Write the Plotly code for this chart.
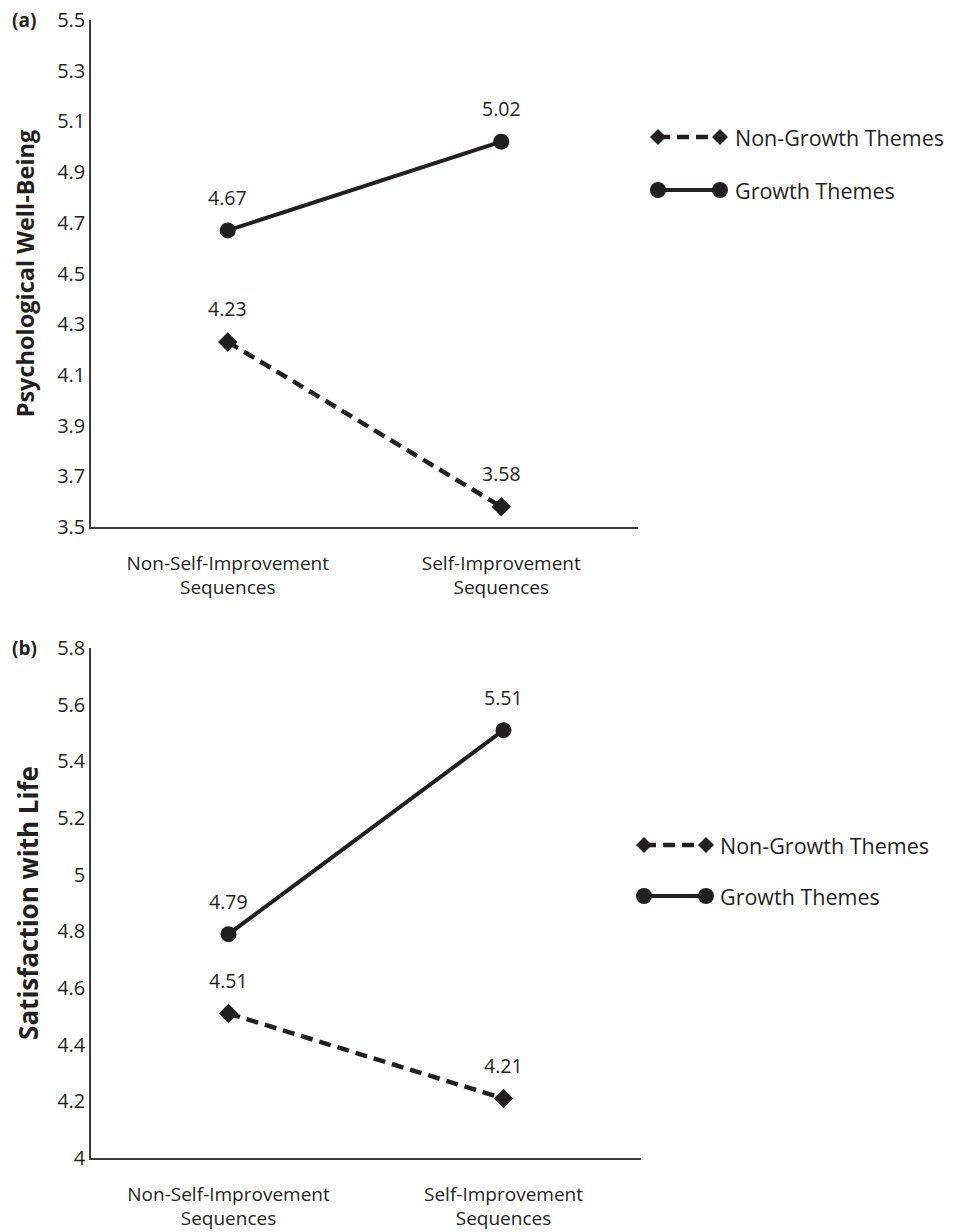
import plotly.graph_objects as go

# ---------------- data ----------------
categories = ["Non-Self-Improvement<br>Sequences", "Self-Improvement<br>Sequences"]
series_names = ["Non-Growth Themes", "Growth Themes"]

pwb_non_growth = [4.23, 3.58]
pwb_growth = [4.67, 5.02]
swl_non_growth = [4.51, 4.21]
swl_growth = [4.79, 5.51]

pwb_ticks = [3.5, 3.7, 3.9, 4.1, 4.3, 4.5, 4.7, 4.9, 5.1, 5.3, 5.5]
pwb_ticklabels = ["3.5", "3.7", "3.9", "4.1", "4.3", "4.5", "4.7", "4.9", "5.1", "5.3", "5.5"]
swl_ticks = [4.0, 4.2, 4.4, 4.6, 4.8, 5.0, 5.2, 5.4, 5.6, 5.8]
swl_ticklabels = ["4", "4.2", "4.4", "4.6", "4.8", "5", "5.2", "5.4", "5.6", "5.8"]

# ---------------- style ----------------
W, H = 954, 1232
INK = "#231f20"
FONT = "Open Sans"
FS = 19

def px(x):
    return x / W

def py(y):
    return 1 - y / H

fig = go.Figure()

panels = [
    dict(xa="x", ya="y", non=pwb_non_growth, gro=pwb_growth),
    dict(xa="x2", ya="y2", non=swl_non_growth, gro=swl_growth),
]

annotations = []
for p in panels:
    fig.add_trace(go.Scatter(
        x=categories, y=p["non"], xaxis=p["xa"], yaxis=p["ya"],
        mode="lines+markers", name=series_names[0], showlegend=False,
        line=dict(color=INK, width=4.5, dash="12px,7px"),
        marker=dict(symbol="diamond", size=15, color=INK),
        hoverinfo="x+y",
    ))
    fig.add_trace(go.Scatter(
        x=categories, y=p["gro"], xaxis=p["xa"], yaxis=p["ya"],
        mode="lines+markers", name=series_names[1], showlegend=False,
        line=dict(color=INK, width=4),
        marker=dict(symbol="circle", size=16, color=INK),
        hoverinfo="x+y",
    ))
    for vals in (p["non"], p["gro"]):
        for c, v in zip(categories, vals):
            annotations.append(dict(
                x=c, y=v, xref=p["xa"], yref=p["ya"], text=f"{v:.2f}",
                showarrow=False, yshift=33, font=dict(family=FONT, size=19.5, color=INK),
            ))

axis_common = dict(
    showgrid=False, zeroline=False, showline=True, linecolor="#3a3a3a", linewidth=1.5,
    ticks="", automargin=False, ticklabeloverflow="allow",
)
xtick_font = dict(family=FONT, size=FS, color=INK)
ytick_font = dict(family=FONT, size=20, color=INK)

fig.update_layout(
    width=W, height=H, autosize=False,
    margin=dict(l=0, r=0, t=0, b=0),
    paper_bgcolor="white", plot_bgcolor="white",
    showlegend=False,
    xaxis=dict(domain=[px(91), px(638)], anchor="y", type="category",
               range=[-0.5, 1.5], ticklabelstandoff=18, tickfont=xtick_font, **axis_common),
    yaxis=dict(domain=[py(527), py(20)], anchor="x", range=[3.5, 5.5],
               tickvals=pwb_ticks, ticktext=pwb_ticklabels, tickfont=ytick_font,
               title=dict(text="<b>Psychological Well-Being</b>", standoff=16,
                          font=dict(family=FONT, size=23.5, color=INK)),
               **axis_common),
    xaxis2=dict(domain=[px(91), px(641)], anchor="y2", type="category",
                range=[-0.5, 1.5], ticklabelstandoff=18, tickfont=xtick_font, **axis_common),
    yaxis2=dict(domain=[py(1158), py(648)], anchor="x2", range=[4.0, 5.8],
                tickvals=swl_ticks, ticktext=swl_ticklabels, tickfont=ytick_font,
                title=dict(text="<b>Satisfaction with Life</b>", standoff=11,
                           font=dict(family=FONT, size=26, color=INK)),
                **axis_common),
)

# panel labels
annotations.append(dict(x=px(10), y=py(20), xref="paper", yref="paper", text="<b>(a)</b>",
                        showarrow=False, xanchor="left", yanchor="middle",
                        font=dict(family=FONT, size=19, color=INK)))
annotations.append(dict(x=px(10), y=py(648), xref="paper", yref="paper", text="<b>(b)</b>",
                        showarrow=False, xanchor="left", yanchor="middle",
                        font=dict(family=FONT, size=19, color=INK)))

# custom legends (markers at both ends of a line sample)
shapes = []
legend_layouts = [
    dict(x0=658, x1=720, tx=733, rows=[137, 190]),
    dict(x0=644, x1=706, tx=718, rows=[845, 896]),
]

def diamond(xc, yc, r=8):
    return dict(type="path", xref="paper", yref="paper", xsizemode="pixel", ysizemode="pixel",
                xanchor=px(xc), yanchor=py(yc),
                path=f"M0,{r} L{r},0 L0,-{r} L-{r},0 Z",
                fillcolor=INK, line=dict(width=0))

def circle(xc, yc, r=8):
    return dict(type="circle", xref="paper", yref="paper", xsizemode="pixel", ysizemode="pixel",
                xanchor=px(xc), yanchor=py(yc), x0=-r, x1=r, y0=-r, y1=r,
                fillcolor=INK, line=dict(width=0))

for L in legend_layouts:
    y_ng, y_g = L["rows"]
    shapes.append(dict(type="line", xref="paper", yref="paper",
                       x0=px(L["x0"]), x1=px(L["x1"]), y0=py(y_ng), y1=py(y_ng),
                       line=dict(color=INK, width=4.5, dash="12px,7px")))
    shapes.append(diamond(L["x0"], y_ng))
    shapes.append(diamond(L["x1"], y_ng))
    shapes.append(dict(type="line", xref="paper", yref="paper",
                       x0=px(L["x0"]), x1=px(L["x1"]), y0=py(y_g), y1=py(y_g),
                       line=dict(color=INK, width=4)))
    shapes.append(circle(L["x0"], y_g))
    shapes.append(circle(L["x1"], y_g))
    for name, yy in zip(series_names, (y_ng, y_g)):
        annotations.append(dict(x=px(L["tx"]), y=py(yy), xref="paper", yref="paper", text=name,
                                showarrow=False, xanchor="left", yanchor="middle",
                                font=dict(family=FONT, size=21.5, color=INK)))

fig.update_layout(annotations=annotations, shapes=shapes)

# remove the default page margin so the figure fills the window exactly
fig.write_html("out.html", config={"displayModeBar": False},
               post_script="document.body.style.margin='0';")
